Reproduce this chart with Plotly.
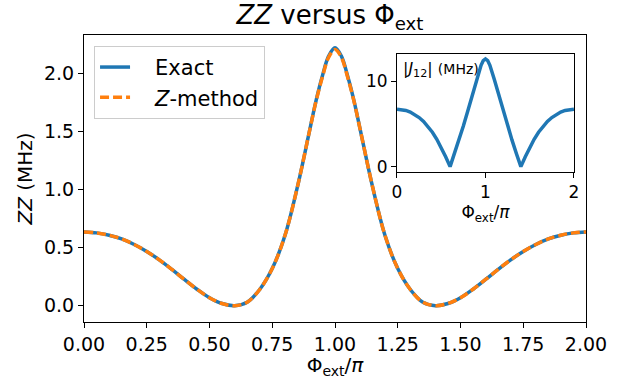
import plotly.graph_objects as go

# ---- data ----
phi = [0.00, 0.05, 0.10, 0.15, 0.20, 0.25, 0.30, 0.35, 0.40, 0.45, 0.50, 0.55, 0.60,
       0.65, 0.70, 0.75, 0.80, 0.85, 0.90, 0.925, 0.95, 0.975, 1.00,
       1.025, 1.05, 1.075, 1.10, 1.15, 1.20, 1.25, 1.30, 1.35, 1.40, 1.45, 1.50, 1.55, 1.60,
       1.65, 1.70, 1.75, 1.80, 1.85, 1.90, 1.95, 2.00]
zz_exact = [0.635, 0.627, 0.607, 0.575, 0.527, 0.467, 0.395, 0.313, 0.226, 0.142, 0.069, 0.019, 0.000,
            0.030, 0.140, 0.320, 0.600, 1.020, 1.520, 1.770, 1.980, 2.150, 2.220,
            2.150, 1.980, 1.770, 1.520, 1.020, 0.600, 0.320, 0.140, 0.030, 0.000, 0.019, 0.069, 0.142, 0.226,
            0.313, 0.395, 0.467, 0.527, 0.575, 0.607, 0.627, 0.635]
zz_zmethod = [0.635, 0.627, 0.607, 0.575, 0.527, 0.467, 0.395, 0.313, 0.226, 0.142, 0.069, 0.019, 0.000,
              0.030, 0.140, 0.320, 0.600, 1.020, 1.520, 1.765, 1.970, 2.140, 2.205,
              2.140, 1.970, 1.765, 1.520, 1.020, 0.600, 0.320, 0.140, 0.030, 0.000, 0.019, 0.069, 0.142, 0.226,
              0.313, 0.395, 0.467, 0.527, 0.575, 0.607, 0.627, 0.635]

phi_j = [0.00, 0.05, 0.10, 0.15, 0.20, 0.25, 0.30, 0.35, 0.40, 0.45, 0.50, 0.55, 0.60,
         0.65, 0.70, 0.75, 0.80, 0.85, 0.90, 0.95, 0.975, 1.00, 1.025,
         1.05, 1.10, 1.15, 1.20, 1.25, 1.30, 1.35, 1.40, 1.45, 1.50, 1.55, 1.60,
         1.65, 1.70, 1.75, 1.80, 1.85, 1.90, 1.95, 2.00]
j12 = [6.72, 6.68, 6.57, 6.38, 6.10, 5.74, 5.28, 4.72, 4.02, 3.20, 2.22, 1.15, 0.00,
       1.50, 3.10, 4.75, 6.50, 8.35, 10.20, 11.85, 12.40, 12.60, 12.40,
       11.85, 10.20, 8.35, 6.50, 4.75, 3.10, 1.50, 0.00, 1.15, 2.22, 3.20, 4.02,
       4.72, 5.28, 5.74, 6.10, 6.38, 6.57, 6.68, 6.72]

main_xticks = [0.0, 0.25, 0.5, 0.75, 1.0, 1.25, 1.5, 1.75, 2.0]
main_yticks = [0.0, 0.5, 1.0, 1.5, 2.0]
inset_xticks = [0, 1, 2]
inset_yticks = [0, 10]

BLUE = "#1f77b4"
ORANGE = "#ff7f0e"
FONT = "DejaVu Sans"
PAD = "\u00a0\u00a0\u00a0"

fig = go.Figure()
fig.add_trace(go.Scatter(x=phi, y=zz_exact, mode="lines", name=PAD + "Exact", legendgroup="a",
                         line=dict(color=BLUE, width=3.5, shape="spline"),
                         xaxis="x", yaxis="y"))
fig.add_trace(go.Scatter(x=phi, y=zz_zmethod, mode="lines", name=PAD + "<i>Z</i>-method", legendgroup="b",
                         line=dict(color=ORANGE, width=3.5, dash="9px,4px", shape="spline"),
                         xaxis="x", yaxis="y"))
fig.add_trace(go.Scatter(x=phi_j, y=j12, mode="lines", showlegend=False,
                         line=dict(color=BLUE, width=3.5),
                         xaxis="x2", yaxis="y2"))

axis_common = dict(showline=True, linecolor="black", linewidth=1, mirror=True,
                   ticks="outside", ticklen=5, tickwidth=1, tickcolor="black",
                   showgrid=False, zeroline=False, automargin=False)

fig.update_layout(
    width=627, height=379,
    margin=dict(l=84, r=41, t=35, b=57),
    paper_bgcolor="white", plot_bgcolor="white",
    font=dict(family=FONT, size=19, color="black"),
    title=dict(text="<i>ZZ</i> versus Φ<sub>ext</sub>", x=0.49, xref="paper",
               xanchor="center", y=1 - 15 / 379, yref="container", yanchor="middle",
               font=dict(size=26)),
    xaxis=dict(domain=[0, 1], range=[0, 2], tickvals=main_xticks, tickformat=".2f",
               title=dict(text="Φ<sub>ext</sub>/<i>π</i>", standoff=6, font=dict(size=20)),
               tickfont=dict(size=19), **axis_common),
    yaxis=dict(domain=[0, 1], range=[-0.14, 2.33], tickvals=main_yticks, tickformat=".1f",
               title=dict(text="<i>ZZ</i> (MHz)", standoff=5, font=dict(size=20)),
               tickfont=dict(size=19), **axis_common),
    xaxis2=dict(domain=[0.6235, 0.976], anchor="y2", range=[0, 2], tickvals=inset_xticks,
                title=dict(text="Φ<sub>ext</sub>/<i>π</i>", standoff=4, font=dict(size=17)),
                tickfont=dict(size=17), **axis_common),
    yaxis2=dict(domain=[0.5226, 0.934], anchor="x2", range=[-0.63, 13.18], tickvals=inset_yticks,
                tickfont=dict(size=17), **axis_common),
    legend=dict(x=0.02, y=0.962, xanchor="left", yanchor="top",
                bgcolor="rgba(255,255,255,0.8)", bordercolor="#cccccc", borderwidth=1,
                font=dict(size=21), traceorder="grouped", tracegroupgap=0),
    annotations=[dict(text="|<i>J</i><sub>12</sub>| <span style='font-size:14px'>(MHz)</span>",
                      xref="x2 domain", yref="y2 domain", x=0.02, y=0.97,
                      xanchor="left", yanchor="top", showarrow=False,
                      font=dict(size=16))],
)

fig.write_html("out.html", config={"displayModeBar": False})

# remove the default page margin so the figure sits at the window's corner
with open("out.html", "r", encoding="utf-8") as f:
    html = f.read()
html = html.replace("<head>", "<head><style>html,body{margin:0;padding:0;}</style>", 1)
with open("out.html", "w", encoding="utf-8") as f:
    f.write(html)
